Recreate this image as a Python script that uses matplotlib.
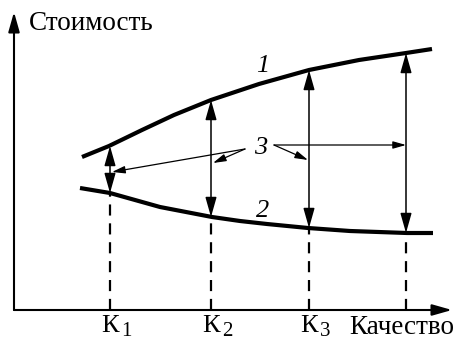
#!/usr/bin/env python3

import matplotlib
matplotlib.use('Agg')
import matplotlib.pyplot as plt

# quality positions of the marked levels (arbitrary units along the axis)
quality_marks = [96, 197, 295, 392]
mark_subscripts = ['1', '2', '3', '']

# curve 1 - upper cost curve
upper_q = [68, 95, 128, 160, 197, 245, 295, 345, 392, 418]
upper_cost = [153, 164, 180, 195, 210, 226, 240, 250, 257, 261]

# curve 2 - lower cost curve
lower_q = [66, 96, 146, 198, 226, 253, 294, 336, 393, 419]
lower_cost = [122, 117, 103, 93, 89, 86, 82, 79, 77, 77]

# cost values at the marks, top and bottom of each double arrow
upper_at_marks = [164, 210, 240, 257]
lower_at_marks = [117, 93, 82, 77]

# ends of the leader lines from label "3"
leader_start = [(231, 161), (231, 161), (260, 165), (260, 165)]
leader_end = [(98, 138), (199, 147), (294, 150), (392, 165)]

FONT = 'Liberation Serif'


def arrow(ax, start, end, style='-|>', lw=1.1, scale=20):
    ax.annotate('', xy=end, xytext=start,
                arrowprops=dict(arrowstyle=style + ',head_length=0.6,head_width=0.17',
                                color='black', lw=lw, shrinkA=0, shrinkB=0,
                                mutation_scale=scale))


def plot(output_path):
    fig = plt.figure(figsize=(4.55, 3.41), dpi=100)
    ax = fig.add_axes([0, 0, 1, 1])
    ax.set_xlim(-14, 441)
    ax.set_ylim(-31, 310)
    ax.axis('off')

    # axes with arrows
    arrow(ax, (0, 0), (438, 0), lw=1.5)
    arrow(ax, (0, 0), (0, 298), lw=1.5)

    ax.plot(upper_q, upper_cost, color='black', lw=3.0, solid_capstyle='butt')
    ax.plot(lower_q, lower_cost, color='black', lw=3.0, solid_capstyle='butt')

    for q, hi, lo, sub in zip(quality_marks, upper_at_marks, lower_at_marks, mark_subscripts):
        ax.plot([q, q], [0, lo], color='black', lw=1.6, dashes=(5, 3.5))
        arrow(ax, (q, lo), (q, hi), style='<|-|>')
        if sub:
            ax.text(q - 9, -16.5, 'К', fontsize=19, family=FONT, ha='left', va='center')
            ax.text(q + 11, -30.5, sub, fontsize=15, family=FONT, ha='left', va='bottom')

    for s, e in zip(leader_start, leader_end):
        arrow(ax, s, e, lw=0.9, scale=13)

    ax.text(15, 287, 'Стоимость', fontsize=19.5, family=FONT, ha='left', va='center')
    ax.text(440, -17.5, 'Качество', fontsize=19.5, family=FONT, ha='right', va='center')
    ax.text(249, 244, '1', fontsize=19, family=FONT, style='italic', ha='center', va='center')
    ax.text(247, 162, '3', fontsize=19, family=FONT, style='italic', ha='center', va='center')
    ax.text(249, 99, '2', fontsize=19, family=FONT, style='italic', ha='center', va='center')

    fig.savefig(output_path, dpi=100)


def main():
    plot('out.png')


if __name__ == '__main__':
    main()
